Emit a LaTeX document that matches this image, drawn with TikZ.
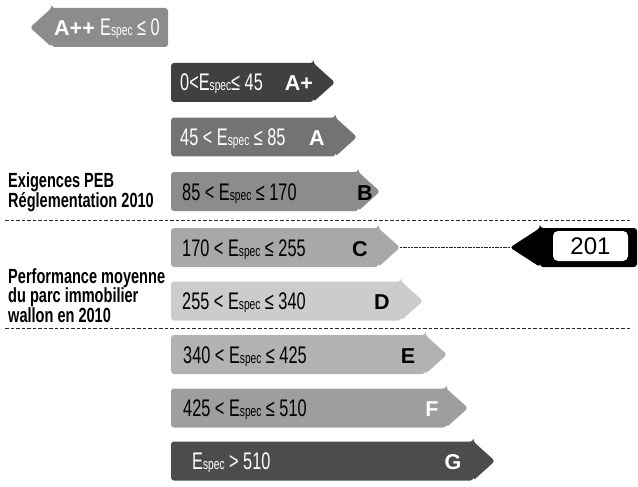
\documentclass[tikz,border=0pt]{standalone}
\usepackage{fontspec}
\setmainfont{Liberation Sans}
\newfontfamily\cond[FakeStretch=0.68]{Liberation Sans}
\newfontfamily\condside[FakeStretch=0.71]{Liberation Sans}
\usetikzlibrary{shapes.arrows}
\definecolor{cApp}{gray}{0.55}
\definecolor{cAp}{gray}{0.25}
\definecolor{cA}{gray}{0.45}
\definecolor{cB}{gray}{0.55}
\definecolor{cC}{gray}{0.66}
\definecolor{cD}{gray}{0.80}
\definecolor{cE}{gray}{0.70}
\definecolor{cF}{gray}{0.62}
\definecolor{cG}{gray}{0.30}
\newcommand\Espec{E{\fontsize{15}{15}\selectfont spec}}
\tikzset{
  band/.style={single arrow, single arrow head extend=0pt, single arrow tip angle=84,
    minimum width=39pt, inner sep=0pt, outer sep=0pt, rounded corners=3pt, anchor=tail, draw=none},
  rng/.style={anchor=base west, inner sep=0pt, font=\cond\fontsize{24}{26}\selectfont},
  cls/.style={anchor=base, inner sep=0pt, font=\bfseries\fontsize{21.5}{24}\selectfont},
  side/.style={anchor=base west, inner sep=0pt, font=\condside\bfseries\fontsize{20.5}{20}\selectfont},
  sep/.style={draw=black!85, line width=0.9pt, dash pattern=on 3.5pt off 2pt},
  conn/.style={draw=black!85, line width=0.9pt, dash pattern=on 2pt off 0.7pt},
}
\begin{document}
\begin{tikzpicture}[x=1pt,y=-1pt]
\useasboundingbox (0,0) rectangle (638,487);
% A++
\node[band, shape border rotate=180, fill=cApp, minimum height=138pt] (App) at (168,27.5) {};
\node[cls, text=white, anchor=base west] (lApp) at (54,35.5) {A++};
\node[rng, text=white] (tApp) at (100,35.5) {\Espec{} ≤ 0};
% A+
\node[band, fill=cAp, minimum height=164pt] (Ap) at (171,82.5) {};
\node[rng, text=white] (tAp) at (180,91) {0<\Espec{}≤ 45};
\node[cls, text=white] (lAp) at (299,91) {A+};
% A
\node[band, fill=cA, minimum height=186pt] (A) at (171,137) {};
\node[rng, text=white] (tA) at (180,145.5) {45 < \Espec{} ≤ 85};
\node[cls, text=white] (lA) at (317,145.5) {A};
% B
\node[band, fill=cB, minimum height=209pt] (B) at (171,191.5) {};
\node[rng] (tB) at (182,200) {85 < \Espec{} ≤ 170};
\node[cls] (lB) at (365,200) {B};
% C
\node[band, fill=cC, minimum height=229pt] (C) at (171,247.5) {};
\node[rng] (tC) at (182,256) {170 < \Espec{} ≤ 255};
\node[cls] (lC) at (360,256) {C};
% D
\node[band, fill=cD, minimum height=252pt] (D) at (171,301) {};
\node[rng] (tD) at (182,309.5) {255 < \Espec{} ≤ 340};
\node[cls] (lD) at (382,309.5) {D};
% E
\node[band, fill=cE, minimum height=276pt] (E) at (171,354.5) {};
\node[rng] (tE) at (183,363) {340 < \Espec{} ≤ 425};
\node[cls] (lE) at (408,363) {E};
% F
\node[band, fill=cF, minimum height=297pt] (F) at (171,408) {};
\node[rng] (tF) at (183,416.5) {425 < \Espec{} ≤ 510};
\node[cls, text=white] (lF) at (432,416.5) {F};
% G
\node[band, fill=cG, minimum height=324pt] (G) at (171,461) {};
\node[rng, text=white] (tG) at (192,469.5) {\Espec{} > 510};
\node[cls, text=white] (lG) at (453,469.5) {G};
% separators
\draw[sep] (5,220) -- (632,220);
\draw[sep] (5,328) -- (632,328);
% side labels
\node[side] (s1a) at (8,187.5) {Exigences PEB};
\node[side] (s1b) at (8,207.5) {Réglementation 2010};
\node[side] (s2a) at (8,283) {Performance moyenne};
\node[side] (s2b) at (8,302.5) {du parc immobilier};
\node[side] (s2c) at (8,322) {wallon en 2010};
% value 201
\node[band, shape border rotate=180, fill=black, single arrow tip angle=66, minimum height=127pt] (v201) at (637,247.5) {};
\node[fill=white, rounded corners=5pt, minimum width=75pt, minimum height=30pt, inner sep=0pt,
  font=\fontsize{24}{24}\selectfont] (val) at (590.5,246) {201};
\draw[conn] (C.tip) -- (v201.tip);
\end{tikzpicture}
\end{document}
